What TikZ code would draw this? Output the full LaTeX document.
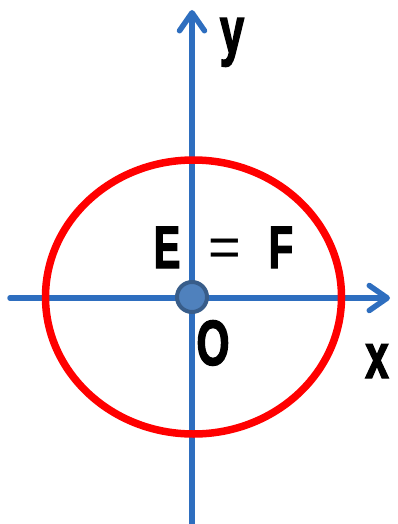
\documentclass[tikz,border=0pt]{standalone}
\usepackage{fontspec}
\setmainfont{Liberation Sans}
\newfontfamily\lblfont[FakeStretch=0.66,FakeBold=2]{Liberation Sans Bold}
\usetikzlibrary{arrows.meta}
\definecolor{axisblue}{HTML}{2E6EBF}
\definecolor{dotfill}{HTML}{4F81BD}
\definecolor{dotedge}{HTML}{385D8A}
\definecolor{ellred}{HTML}{FF0000}
\tikzset{
  axis/.style={draw=axisblue, line width=5.5pt, line cap=round,
    -{Straight Barb[length=18pt,width=25pt,line width=5.5pt,round]}},
  lbl/.style={inner sep=0pt, anchor=base},
}
\newcommand{\lblsize}[1]{\lblfont\fontsize{#1}{#1}\selectfont}
\begin{document}
\begin{tikzpicture}[x=1pt,y=-1pt]
\useasboundingbox (0,0) rectangle (397,524);
\coordinate (ybot) at (192,524);
\coordinate (ytop) at (192,10);
\coordinate (xleft) at (10,298);
\coordinate (xright) at (390,298);
\draw[axis] (ybot) -- (ytop);
\draw[axis] (xleft) -- (xright);
\draw[ellred, line width=7.5pt] (193.5,297) ellipse [x radius=148, y radius=137];
\node[circle, fill=dotfill, draw=dotedge, line width=4pt, minimum size=30pt, inner sep=0pt] (o) at (192,297) {};
\node[lbl, font=\lblsize{66}, text height=34pt] (ylab) at (232,53) {y};
\node[lbl, font=\lblsize{60}] (E) at (167,268) {E};
\node[lbl, font=\fontsize{56}{56}\selectfont] (eq) at (225,266) {=};
\node[lbl, font=\lblsize{60}] (F) at (281,268) {F};
\node[lbl, font=\lblsize{64}] (O) at (213,365) {O};
\node[lbl, font=\lblsize{64}] (xlab) at (377,378) {x};
\end{tikzpicture}
\end{document}
